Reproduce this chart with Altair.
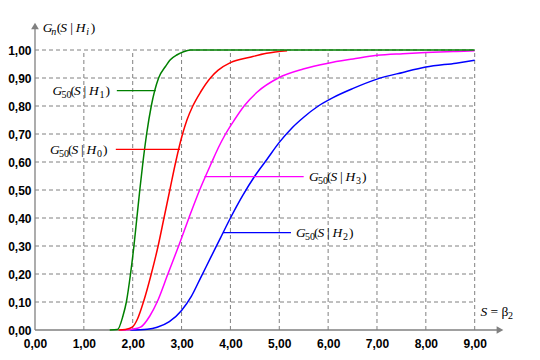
import altair as alt
import pandas as pd

# ---------------- data ----------------
h1_s = [1.53, 1.69, 1.80, 1.87, 1.955, 2.025, 2.085, 2.145, 2.21, 2.285, 2.38, 2.53, 2.67, 2.77, 2.91, 3.04, 3.18, 9.00]
h1_g = [0.00, 0.002, 0.05, 0.10, 0.20, 0.30, 0.40, 0.50, 0.60, 0.70, 0.80, 0.90, 0.941, 0.965, 0.983, 0.994, 1.00, 1.00]

h0_s = [1.71, 1.85, 1.99, 2.10, 2.22, 2.38, 2.52, 2.64, 2.76, 2.88, 3.02, 3.11, 3.23, 3.39, 3.59, 3.75, 4.00, 4.40, 4.74, 5.16]
h0_g = [0.00, 0.002, 0.01, 0.04, 0.10, 0.20, 0.30, 0.40, 0.50, 0.60, 0.70, 0.75, 0.80, 0.85, 0.90, 0.928, 0.955, 0.974, 0.988, 0.997]

h3_s = [1.75, 2.00, 2.16, 2.35, 2.50, 2.72, 2.94, 3.15, 3.37, 3.62, 3.75, 3.90, 4.08, 4.28, 4.55, 4.98, 5.49, 6.00, 6.51, 7.00, 7.53, 8.00, 8.62, 9.00]
h3_g = [0.00, 0.003, 0.01, 0.05, 0.10, 0.20, 0.30, 0.40, 0.50, 0.60, 0.65, 0.70, 0.75, 0.80, 0.85, 0.90, 0.932, 0.953, 0.968, 0.981, 0.987, 0.991, 0.995, 0.997]

h2_s = [1.95, 2.30, 2.50, 2.75, 3.00, 3.20, 3.40, 3.60, 3.80, 4.00, 4.25, 4.50, 4.75, 5.00, 5.25, 5.50, 5.80, 6.10, 6.50, 7.00, 7.53, 8.00, 8.62, 9.00]
h2_g = [0.00, 0.003, 0.01, 0.03, 0.07, 0.12, 0.19, 0.26, 0.33, 0.40, 0.48, 0.55, 0.61, 0.67, 0.72, 0.76, 0.80, 0.83, 0.862, 0.896, 0.920, 0.939, 0.953, 0.963]

series_names = ["H2", "H3", "H0", "H1"]
series_colors = ["#0000ff", "#ff00ff", "#ff0000", "#008000"]

x_ticks = [0, 1, 2, 3, 4, 5, 6, 7, 8, 9]
y_ticks = [0.0, 0.1, 0.2, 0.3, 0.4, 0.5, 0.6, 0.7, 0.8, 0.9, 1.0]

# ---------------- geometry ----------------
X_MAX, Y_MAX = 9.6, 1.1
W, H = 469, 308
PX = W / X_MAX
PY = H / Y_MAX

xs = alt.Scale(domain=[0, X_MAX], nice=False, zero=False)
ys = alt.Scale(domain=[0, Y_MAX], nice=False, zero=False)

LABEL_EXPR = "replace(format(datum.value, '.2f'), '.', ',')"
AX_COMMON = dict(domain=False, ticks=False, tickSize=0, grid=False, title=None,
                 labelFont="Liberation Sans", labelFontWeight="bold", labelFontSize=12,
                 labelColor="black", labelFlush=False, labelOverlap=False,
                 labelExpr=LABEL_EXPR)
X_AX = alt.Axis(values=x_ticks, labelPadding=8, **AX_COMMON)
Y_AX = alt.Axis(values=y_ticks, labelPadding=4, **AX_COMMON)

SERIF = "Liberation Serif, Times New Roman, serif"

frames = []
for name, s, g in [("H2", h2_s, h2_g), ("H3", h3_s, h3_g), ("H0", h0_s, h0_g), ("H1", h1_s, h1_g)]:
    frames.append(pd.DataFrame({"s": s, "g": g, "series": name}))
curves = pd.concat(frames, ignore_index=True)

GRID = "#808080"

vgrid = alt.Chart(pd.DataFrame({"x": x_ticks[1:]})).mark_rule(
    color=GRID, strokeWidth=1, strokeDash=[4, 3]
).encode(
    x=alt.X("x:Q", scale=xs, axis=X_AX),
    y=alt.datum(0, scale=ys, axis=Y_AX),
    y2=alt.datum(1.0),
)

hgrid = alt.Chart(pd.DataFrame({"y": y_ticks[1:]})).mark_rule(
    color=GRID, strokeWidth=1, strokeDash=[4, 3]
).encode(
    y=alt.Y("y:Q", scale=ys, axis=Y_AX),
    x=alt.datum(0, scale=xs, axis=X_AX),
    x2=alt.datum(9.0),
)

# axis lines with arrow heads
xaxis_line = alt.Chart(pd.DataFrame({"a": [0]})).mark_rule(color=GRID, strokeWidth=1.3).encode(
    x=alt.datum(0, scale=xs, axis=X_AX), x2=alt.datum(X_MAX - 6 / PX), y=alt.datum(0, scale=ys, axis=Y_AX))
yaxis_line = alt.Chart(pd.DataFrame({"a": [0]})).mark_rule(color=GRID, strokeWidth=1.3).encode(
    y=alt.datum(0, scale=ys, axis=Y_AX), y2=alt.datum(Y_MAX - 6 / PY), x=alt.datum(0, scale=xs, axis=X_AX))
xarrow = alt.Chart(pd.DataFrame({"a": [0]})).mark_point(
    shape="triangle-right", filled=True, size=60, color=GRID, opacity=1).encode(
    x=alt.datum(X_MAX - 4 / PX, scale=xs, axis=X_AX), y=alt.datum(0, scale=ys, axis=Y_AX))
yarrow = alt.Chart(pd.DataFrame({"a": [0]})).mark_point(
    shape="triangle-up", filled=True, size=60, color=GRID, opacity=1).encode(
    x=alt.datum(0, scale=xs, axis=X_AX), y=alt.datum(Y_MAX - 4 / PY, scale=ys, axis=Y_AX))

color_enc = alt.Color("series:N", scale=alt.Scale(domain=series_names, range=series_colors), legend=None)

lines = alt.Chart(curves).mark_line(strokeWidth=1.5, interpolate="monotone").encode(
    x=alt.X("s:Q", scale=xs, axis=X_AX),
    y=alt.Y("g:Q", scale=ys, axis=Y_AX),
    color=color_enc,
    order=alt.Order("s:Q"),
)

# leader lines for the labels
leaders = pd.DataFrame({
    "x1": [1.675, 1.654, 3.47, 3.85],
    "x2": [2.47, 2.97, 5.50, 5.24],
    "y": [0.855, 0.645, 0.5475, 0.3475],
    "series": ["H1", "H0", "H3", "H2"],
})
leader_rules = alt.Chart(leaders).mark_rule(strokeWidth=1.3).encode(
    x=alt.X("x1:Q", scale=xs, axis=X_AX), x2="x2:Q",
    y=alt.Y("y:Q", scale=ys, axis=Y_AX),
    color=color_enc,
)

# text pieces (kind: it = italic, up = upright, sub = small upright, subit = small italic)
def label_parts(k):
    return [("G", 0, "it"), ("50", 9, "sub"), ("(", 18, "up"), ("S", 21.5, "it"),
            ("|", 31, "up"), ("H", 36.5, "it"), (k, 47, "sub"), (")", 53, "up")]

texts = [
    (0.36, 0.839, label_parts("1")),
    (0.305, 0.630, label_parts("0")),
    (5.61, 0.531, label_parts("3")),
    (5.34, 0.332, label_parts("2")),
    (0.16, 1.066, [("G", 0, "it"), ("n", 8.5, "subit"), ("(", 14, "up"), ("S", 17.5, "it"),
                   ("|", 27.5, "up"), ("H", 33, "it"), ("i", 43.5, "subit"), (")", 48, "up")]),
    (9.12, 0.050, [("S", 0, "it"), ("=", 10, "up"), ("β", 21, "up"), ("2", 27.5, "sub")]),
]
rows = []
for ax, ay, parts in texts:
    for t, dx, kind in parts:
        dy = 3 if kind in ("sub", "subit") else 0
        rows.append({"x": ax + dx / PX, "y": ay - dy / PY, "t": t, "kind": kind})
tdf = pd.DataFrame(rows)

def text_layer(kind, size, style):
    return alt.Chart(tdf).transform_filter(alt.datum.kind == kind).mark_text(
        font=SERIF, fontSize=size, fontStyle=style, align="left",
        baseline="alphabetic", color="black").encode(
        x=alt.X("x:Q", scale=xs, axis=X_AX), y=alt.Y("y:Q", scale=ys, axis=Y_AX), text="t:N")

t_it = text_layer("it", 13.5, "italic")
t_up = text_layer("up", 13.5, "normal")
t_sub = text_layer("sub", 10, "normal")
t_subit = text_layer("subit", 10, "italic")

chart = alt.layer(
    vgrid, hgrid, xaxis_line, yaxis_line, xarrow, yarrow, lines, leader_rules,
    t_it, t_up, t_sub, t_subit,
).properties(
    width=W, height=H,
    autosize=alt.AutoSizeParams(type="none"),
    padding={"left": 27, "top": 14, "right": 22, "bottom": 20},
    background="white",
).configure_view(stroke=None)

chart.save("out.html", embed_options={"renderer": "svg", "actions": False})
